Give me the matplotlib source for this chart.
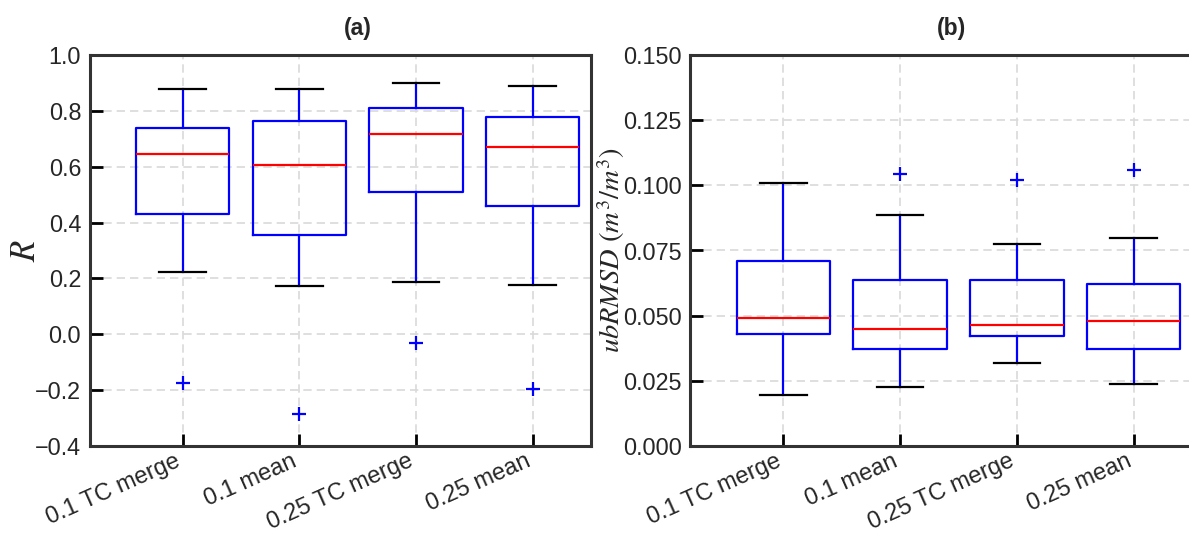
import matplotlib
matplotlib.use("Agg")
import matplotlib.pyplot as plt
import matplotlib.transforms as mtransforms

categories = ["0.1 TC merge", "0.1 mean", "0.25 TC merge", "0.25 mean"]

# Panel (a): R
r_whislo = [0.222, 0.172, 0.186, 0.175]
r_q1 = [0.432, 0.355, 0.510, 0.460]
r_med = [0.645, 0.605, 0.718, 0.670]
r_q3 = [0.740, 0.765, 0.812, 0.777]
r_whishi = [0.880, 0.880, 0.900, 0.890]
r_fliers = [[-0.175], [-0.285], [-0.030], [-0.195]]

# Panel (b): ubRMSD
u_whislo = [0.0196, 0.0227, 0.0318, 0.0237]
u_q1 = [0.0428, 0.0372, 0.0421, 0.0374]
u_med = [0.0492, 0.0449, 0.0466, 0.0480]
u_q3 = [0.0708, 0.0638, 0.0635, 0.0622]
u_whishi = [0.1008, 0.0886, 0.0776, 0.0799]
u_fliers = [[], [0.1044], [0.1020], [0.1057]]

plt.rcParams['font.family'] = ['Liberation Sans', 'DejaVu Sans']
plt.rcParams['mathtext.fontset'] = 'stix'

W, H = 1189, 536
fig = plt.figure(figsize=(W / 100, H / 100), dpi=100)

def make_axes(x0, x1, y0, y1):
    return fig.add_axes([x0 / W, 1 - y1 / H, (x1 - x0) / W, (y1 - y0) / H])

ax1 = make_axes(89.5, 591, 55, 446)
ax2 = make_axes(690, 1192, 55, 446)

TXT = '#262626'

def stats(lo, q1, med, q3, hi, fl):
    return [dict(whislo=a, q1=b, med=c, q3=d, whishi=e, fliers=f, label=l)
            for a, b, c, d, e, f, l in zip(lo, q1, med, q3, hi, fl, categories)]

def draw(ax, st):
    ax.bxp(st, positions=[1, 2, 3, 4], widths=0.8, showfliers=True,
           boxprops=dict(color='blue', linewidth=1.6),
           whiskerprops=dict(color='blue', linewidth=1.6),
           capprops=dict(color='black', linewidth=1.6),
           medianprops=dict(color='red', linewidth=1.6),
           flierprops=dict(marker='+', markeredgecolor='blue', markersize=10,
                           markeredgewidth=1.6, linestyle='none'))
    ax.grid(True, linestyle='--', color='#d9d9d9', linewidth=1.2, dashes=(5, 3))
    ax.set_axisbelow(True)
    for s in ax.spines.values():
        s.set_linewidth(2.2)
        s.set_color('#333333')
    ax.tick_params(axis='both', direction='in', length=9, width=2, color='black',
                   labelsize=16.8, labelcolor=TXT, pad=6)
    ax.tick_params(axis='x', pad=3)
    ax.set_xticks([1, 2, 3, 4])
    labels = ax.set_xticklabels(categories, rotation=24, ha='right',
                                rotation_mode='anchor', fontsize=17)
    off = mtransforms.ScaledTranslation(-8 / 100, 0, fig.dpi_scale_trans)
    for lab in labels:
        lab.set_transform(lab.get_transform() + off)
    ax.set_xlim(0.2, 4.5)

draw(ax1, stats(r_whislo, r_q1, r_med, r_q3, r_whishi, r_fliers))
ax1.set_ylim(-0.4, 1.0)
ax1.set_yticks([-0.4, -0.2, 0.0, 0.2, 0.4, 0.6, 0.8, 1.0])
ax1.set_ylabel(r'$R$', fontsize=25, color=TXT)
ax1.yaxis.set_label_coords(-0.095, 0.5)

draw(ax2, stats(u_whislo, u_q1, u_med, u_q3, u_whishi, u_fliers))
ax2.set_ylim(0.0, 0.150)
ax2.set_yticks([0.0, 0.025, 0.05, 0.075, 0.1, 0.125, 0.15])
ax2.set_yticklabels(['0.000', '0.025', '0.050', '0.075', '0.100', '0.125', '0.150'])
ax2.set_ylabel(r'$ubRMSD\ (m^3/m^3)$', fontsize=20.5, color=TXT)
ax2.yaxis.set_label_coords(-0.125, 0.5)

fig.text(358 / W, 1 - 28 / H, '(a)', fontsize=16.5, fontweight='bold',
         ha='center', va='center', color=TXT)
fig.text(952 / W, 1 - 28 / H, '(b)', fontsize=16.5, fontweight='bold',
         ha='center', va='center', color=TXT)

fig.savefig('out.png', dpi=100)
